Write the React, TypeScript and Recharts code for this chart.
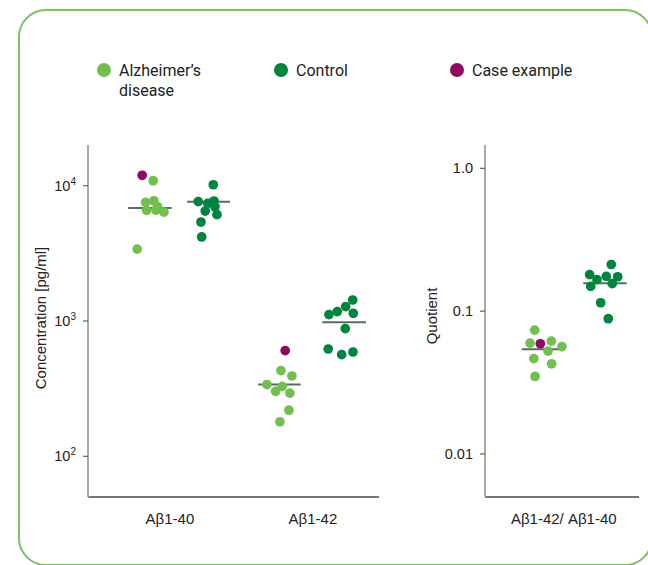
import React from 'react';
import { ScatterChart, Scatter, XAxis, YAxis, ZAxis, ReferenceLine, Label } from 'recharts';

// ---------- Data: left panel (concentration, pg/ml) ----------
const concCategories = ['Aβ1-40', 'Aβ1-42'];
const concCategoryPos = [1, 2];

const ab40AdX = [0.883, 0.83, 0.888, 0.914, 0.837, 0.902, 0.958, 0.771];
const ab40AdY = [10890, 7540, 7740, 6990, 6580, 6610, 6380, 3400];
const ab40CaseX = [0.806];
const ab40CaseY = [11940];
const ab40CtrlX = [1.303, 1.198, 1.264, 1.308, 1.315, 1.247, 1.329, 1.217, 1.222];
const ab40CtrlY = [10170, 7620, 7410, 7710, 6990, 6500, 6110, 5390, 4180];

const ab42AdX = [1.776, 1.853, 1.678, 1.785, 1.739, 1.839, 1.832, 1.769];
const ab42AdY = [430, 392, 339, 329, 302, 293, 219, 180];
const ab42CaseX = [1.806];
const ab42CaseY = [604];
const ab42CtrlX = [2.112, 2.17, 2.229, 2.278, 2.282, 2.226, 2.107, 2.201, 2.28];
const ab42CtrlY = [1115, 1174, 1278, 1430, 1140, 879, 621, 564, 590];

// median bars: [xStart, xEnd, value]
const concMedians = [
  [0.708, 1.012, 6840],
  [1.121, 1.42, 7620],
  [1.617, 1.914, 340],
  [2.065, 2.371, 978],
];
const concTicks = [100, 1000, 10000];

// ---------- Data: right panel (quotient) ----------
const quotCategories = ['Aβ1-42/ Aβ1-40'];
const quotCategoryPos = [1];
const quotAdX = [0.797, 0.764, 0.913, 0.987, 0.89, 0.79, 0.915, 0.799];
const quotAdY = [0.0736, 0.0597, 0.0617, 0.0564, 0.0525, 0.0465, 0.0428, 0.0349];
const quotCaseX = [0.836];
const quotCaseY = [0.0591];
const quotCtrlX = [1.332, 1.181, 1.297, 1.377, 1.232, 1.188, 1.339, 1.258, 1.311];
const quotCtrlY = [0.212, 0.18, 0.175, 0.174, 0.166, 0.149, 0.156, 0.1145, 0.0885];
const quotMedians = [
  [0.706, 1.008, 0.0542],
  [1.136, 1.44, 0.157],
];
const quotTicks = [0.01, 0.1, 1];
const quotTickLabels = ['0.01', '0.1', '1.0'];

// ---------- Styles ----------
const AD_COLOR = '#72bf50';
const CTRL_COLOR = '#00843f';
const CASE_COLOR = '#8e0a62';
const MEDIAN_COLOR = '#566d5f';
const Y_AXIS_COLOR = '#a9a9a9';
const X_AXIS_COLOR = '#4a4a4a';
const TEXT_COLOR = '#222';
const AXIS_FONT = '"Liberation Sans", Arial, Helvetica, sans-serif';
const LEGEND_FONT = 'Roboto, "Noto Sans", sans-serif';
const DOT_AREA = 74;

const pts = (xs: number[], ys: number[]) => xs.map((x, i) => ({ x, y: ys[i], z: 1 }));

const PowerTick = (props: any) => {
  const { x, y, payload } = props;
  const exp = Math.round(Math.log10(payload.value));
  return (
    <text x={x} y={y} dy={5} textAnchor="end" fontSize={14.5} fill={TEXT_COLOR} fontFamily={AXIS_FONT}>
      10
      <tspan fontSize={10} dy={-6}>
        {exp}
      </tspan>
    </text>
  );
};

const QuotTick = (props: any) => {
  const { x, y, payload } = props;
  const idx = quotTicks.indexOf(payload.value);
  return (
    <text x={x} y={y} dy={5} textAnchor="end" fontSize={14.5} fill={TEXT_COLOR} fontFamily={AXIS_FONT}>
      {idx >= 0 ? quotTickLabels[idx] : payload.value}
    </text>
  );
};

const makeCatTick = (cats: string[], pos: number[]) => (props: any) => {
  const { x, y, payload } = props;
  const idx = pos.indexOf(payload.value);
  return (
    <text x={x} y={y} dy={27} textAnchor="middle" fontSize={15} fill={TEXT_COLOR} fontFamily={AXIS_FONT}>
      {idx >= 0 ? cats[idx] : ''}
    </text>
  );
};

const ConcXTick = makeCatTick(concCategories, concCategoryPos);
const QuotXTick = makeCatTick(quotCategories, quotCategoryPos);

const LegendItem = ({ left, color, lines }: { left: number; color: string; lines: string[] }) => (
  <div style={{ position: 'absolute', left, top: 61 }}>
    <div
      style={{
        position: 'absolute',
        left: 0,
        top: 2,
        width: 14,
        height: 14,
        borderRadius: '50%',
        background: color,
      }}
    />
    <div
      style={{
        position: 'absolute',
        left: 22,
        top: 0,
        fontFamily: LEGEND_FONT,
        fontSize: 16,
        lineHeight: '20px',
        color: TEXT_COLOR,
        whiteSpace: 'nowrap',
      }}
    >
      {lines.map((l, i) => (
        <div key={i}>{l}</div>
      ))}
    </div>
  </div>
);

export default function App() {
  return (
    <div
      style={{
        position: 'absolute',
        left: 0,
        top: 0,
        width: 648,
        height: 565,
        overflow: 'hidden',
        background: '#fff',
      }}
    >
      <div
        style={{
          position: 'absolute',
          left: 18,
          top: 9,
          width: 635,
          height: 557,
          border: '2px solid #7cc35d',
          borderRadius: 28,
          boxSizing: 'border-box',
        }}
      />
      <LegendItem left={97} color={AD_COLOR} lines={['Alzheimer’s', 'disease']} />
      <LegendItem left={274} color={CTRL_COLOR} lines={['Control']} />
      <LegendItem left={450} color={CASE_COLOR} lines={['Case example']} />

      <div style={{ position: 'absolute', left: 0, top: 0 }}>
        <ScatterChart width={390} height={540} margin={{ top: 145, right: 11, bottom: 13, left: 28 }}>
          <XAxis
            type="number"
            dataKey="x"
            domain={[0.427, 2.462]}
            ticks={concCategoryPos}
            allowDataOverflow
            tick={ConcXTick}
            tickLine={false}
            tickSize={0}
            tickMargin={0}
            height={30}
            axisLine={{ stroke: X_AXIS_COLOR, strokeWidth: 1.5 }}
          />
          <YAxis
            type="number"
            dataKey="y"
            scale="log"
            domain={[50, 20000]}
            ticks={concTicks}
            allowDataOverflow
            width={60}
            tick={PowerTick}
            tickSize={5}
            tickMargin={7}
            tickLine={{ stroke: '#444' }}
            axisLine={{ stroke: Y_AXIS_COLOR, strokeWidth: 2 }}
          >
            <Label
              content={() => (
                <text
                  x={42}
                  y={318}
                  transform="rotate(-90 42 318)"
                  textAnchor="middle"
                  dominantBaseline="middle"
                  fontSize={15}
                  fill={TEXT_COLOR}
                  fontFamily={AXIS_FONT}
                >
                  Concentration [pg/ml]
                </text>
              )}
            />
          </YAxis>
          <ZAxis type="number" dataKey="z" range={[DOT_AREA, DOT_AREA]} />
          <Scatter data={pts(ab40AdX, ab40AdY)} fill={AD_COLOR} isAnimationActive={false} />
          <Scatter data={pts(ab42AdX, ab42AdY)} fill={AD_COLOR} isAnimationActive={false} />
          <Scatter data={pts(ab40CtrlX, ab40CtrlY)} fill={CTRL_COLOR} isAnimationActive={false} />
          <Scatter data={pts(ab42CtrlX, ab42CtrlY)} fill={CTRL_COLOR} isAnimationActive={false} />
          <Scatter data={pts(ab40CaseX, ab40CaseY)} fill={CASE_COLOR} isAnimationActive={false} />
          <Scatter data={pts(ab42CaseX, ab42CaseY)} fill={CASE_COLOR} isAnimationActive={false} />
          {concMedians.map(([a, b, m], i) => (
            <ReferenceLine
              key={i}
              segment={[
                { x: a, y: m },
                { x: b, y: m },
              ]}
              stroke={MEDIAN_COLOR}
              strokeWidth={2}
              ifOverflow="visible"
            />
          ))}
        </ScatterChart>
      </div>

      <div style={{ position: 'absolute', left: 400, top: 0 }}>
        <ScatterChart width={248} height={540} margin={{ top: 145, right: 9, bottom: 13, left: 30 }}>
          <XAxis
            type="number"
            dataKey="x"
            domain={[0.449, 1.526]}
            ticks={quotCategoryPos}
            allowDataOverflow
            tick={QuotXTick}
            tickLine={false}
            tickSize={0}
            tickMargin={0}
            height={30}
            axisLine={{ stroke: X_AXIS_COLOR, strokeWidth: 1.5 }}
          />
          <YAxis
            type="number"
            dataKey="y"
            scale="log"
            domain={[0.005, 1.455]}
            ticks={quotTicks}
            allowDataOverflow
            width={55}
            tick={QuotTick}
            tickSize={5}
            tickMargin={7}
            tickLine={{ stroke: '#444' }}
            axisLine={{ stroke: Y_AXIS_COLOR, strokeWidth: 2 }}
          >
            <Label
              content={() => (
                <text
                  x={33}
                  y={316}
                  transform="rotate(-90 33 316)"
                  textAnchor="middle"
                  dominantBaseline="middle"
                  fontSize={15}
                  fill={TEXT_COLOR}
                  fontFamily={AXIS_FONT}
                >
                  Quotient
                </text>
              )}
            />
          </YAxis>
          <ZAxis type="number" dataKey="z" range={[DOT_AREA, DOT_AREA]} />
          <Scatter data={pts(quotAdX, quotAdY)} fill={AD_COLOR} isAnimationActive={false} />
          <Scatter data={pts(quotCtrlX, quotCtrlY)} fill={CTRL_COLOR} isAnimationActive={false} />
          <Scatter data={pts(quotCaseX, quotCaseY)} fill={CASE_COLOR} isAnimationActive={false} />
          {quotMedians.map(([a, b, m], i) => (
            <ReferenceLine
              key={i}
              segment={[
                { x: a, y: m },
                { x: b, y: m },
              ]}
              stroke={MEDIAN_COLOR}
              strokeWidth={2}
              ifOverflow="visible"
            />
          ))}
        </ScatterChart>
      </div>
    </div>
  );
}
